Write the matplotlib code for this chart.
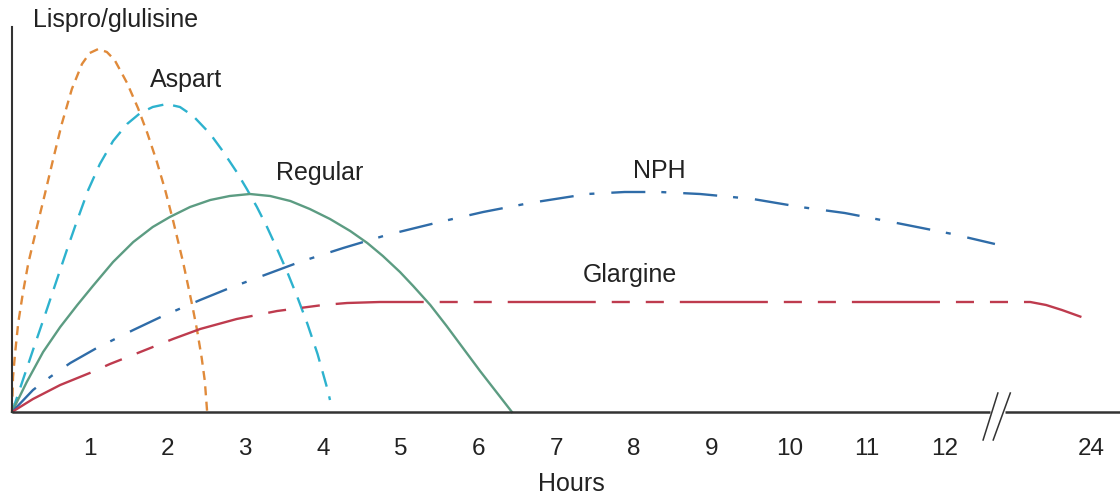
import matplotlib
matplotlib.use("Agg")
import matplotlib.pyplot as plt
import numpy as np

plt.rcParams['font.family'] = ['Liberation Sans', 'DejaVu Sans']
plt.rcParams['lines.scale_dashes'] = False

# ---- data (hours, relative activity) ----
lispro_h = [0, 0.013, 0.04, 0.08, 0.14, 0.21, 0.32, 0.42, 0.53, 0.64, 0.77, 0.90, 1.00, 1.11,
            1.22, 1.32, 1.48, 1.62, 1.74, 1.86, 1.97, 2.07, 2.20, 2.32, 2.38, 2.44, 2.48, 2.51]
lispro_v = [0, 35, 59, 89, 119, 149, 185, 217, 253, 288, 323, 348, 359, 363,
            360, 352, 329, 304, 279, 251, 222, 192, 150, 106, 82, 54, 31, 0]

aspart_h = [0, 0.04, 0.14, 0.27, 0.42, 0.58, 0.71, 0.84, 0.98, 1.13, 1.30, 1.48, 1.65, 1.81,
            1.99, 2.16, 2.33, 2.55, 2.71, 2.89, 3.02, 3.15, 3.28, 3.41, 3.54, 3.67, 3.80,
            3.93, 4.06, 4.09]
aspart_v = [0, 9, 32, 62, 96, 133, 163, 192, 222, 248, 271, 288, 299, 305,
            308, 305, 296, 278, 261, 240, 223, 205, 185, 163, 140, 115, 88,
            58, 22, 12]

regular_h = [0, 0.19, 0.40, 0.62, 0.84, 1.04, 1.30, 1.56, 1.81, 2.03, 2.29, 2.55, 2.80, 3.06,
             3.32, 3.58, 3.83, 4.09, 4.35, 4.57, 4.77, 4.99, 5.16, 5.38, 5.59, 5.80, 6.02,
             6.24, 6.43]
regular_v = [0, 30, 60, 85, 107, 126, 150, 170, 185, 195, 205, 212, 216, 218,
             216, 211, 203, 193, 181, 169, 156, 140, 126, 107, 86, 64, 41,
             19, 0]

nph_h = [0, 0.27, 0.49, 0.75, 1.09, 1.56, 1.94, 2.42, 2.80, 3.32, 3.70, 4.26, 4.82, 5.50,
         6.06, 6.66, 7.40, 7.88, 8.33, 8.85, 9.53, 10.14, 10.71, 11.38, 12.6, 16.1]
nph_v = [0, 22, 35, 49, 64, 82, 96, 112, 124, 139, 150, 164, 177, 190,
         200, 209, 218, 220, 220, 218, 213, 205, 199, 189, 178, 168]

glargine_h = [0, 0.27, 0.62, 1.00, 1.26, 1.65, 2.07, 2.42, 2.89, 3.41, 4.00, 4.31, 4.73,
              8.0, 12.0, 19.0, 20.3, 21.6, 23.2]
glargine_v = [0, 13, 27, 39, 48, 60, 73, 83, 93, 101, 107, 109, 110,
              110, 110, 110, 107, 102, 95]

tick_hours = [1, 2, 3, 4, 5, 6, 7, 8, 9, 10, 11, 12, 24]
tick_labels = ["1", "2", "3", "4", "5", "6", "7", "8", "9", "10", "11", "12", "24"]

# ---- broken time axis: 0-12 h linear, 12-24 h compressed ----
BREAK_H = 12.0
COMPRESS = 1.88 / 12.0


def pos(hours):
    h = np.asarray(hours, dtype=float)
    return np.where(h <= BREAK_H, h, BREAK_H + (h - BREAK_H) * COMPRESS)


W, H, DPI = 1120, 495, 100
fig = plt.figure(figsize=(W / DPI, H / DPI), dpi=DPI)
px_per_h = 77.75
left_px, base_px, top_px = 12, 412, 27
ax = fig.add_axes([left_px / W, (H - base_px) / H, (W - left_px) / W, (base_px - top_px) / H])
ax.set_xlim(0, (W - left_px) / px_per_h)
ax.set_ylim(0, base_px - top_px)

c_lispro = "#E08A3A"
c_aspart = "#2DB2CE"
c_regular = "#5C9C82"
c_nph = "#2F6CA8"
c_glargine = "#BE3B4E"
lw = 1.7

ax.plot(pos(lispro_h), lispro_v, color=c_lispro, lw=lw, dashes=(6.5, 4.6), clip_on=False)
ax.plot(pos(aspart_h), aspart_v, color=c_aspart, lw=lw, dashes=(11.5, 7.2), clip_on=False)
ax.plot(pos(regular_h), regular_v, color=c_regular, lw=lw, clip_on=False)
ax.plot(pos(nph_h), nph_v, color=c_nph, lw=lw, dashes=(24.5, 11.5, 3.6, 12.2), clip_on=False)
ax.plot(pos(glargine_h), glargine_v, color=c_glargine, lw=lw,
        dashes=(63.4, 11.5, 13, 11.5, 13, 11.5), clip_on=False)

# axes
for s in ["top", "right", "bottom"]:
    ax.spines[s].set_visible(False)
ax.spines["left"].set_color("#333333")
ax.spines["left"].set_linewidth(1.5)
ax.set_yticks([])
axis_col = "#333333"
xmax = ax.get_xlim()[1]
gap_lo, gap_hi = 12.58, 12.77
ax.plot([0, gap_lo], [0, 0], color=axis_col, lw=1.8, clip_on=False, solid_capstyle="butt")
ax.plot([gap_hi, xmax], [0, 0], color=axis_col, lw=1.8, clip_on=False, solid_capstyle="butt")
# break marks
ax.plot([12.49, 12.68], [-28, 19], color=axis_col, lw=1.1, clip_on=False)
ax.plot([12.62, 12.84], [-28, 19], color=axis_col, lw=1.1, clip_on=False)

ax.set_xticks(pos(tick_hours))
ax.set_xticklabels(tick_labels)
ax.tick_params(axis="x", length=0, pad=19, labelsize=17.5, labelcolor="#222222")

fs = 18
tc = "#222222"
ax.text(0.27, 392, "Lispro/glulisine", fontsize=fs, color=tc, ha="left", va="center", clip_on=False)
ax.text(1.78, 332, "Aspart", fontsize=fs, color=tc, ha="left", va="center")
ax.text(3.4, 239, "Regular", fontsize=fs, color=tc, ha="left", va="center")
ax.text(7.99, 241, "NPH", fontsize=fs, color=tc, ha="left", va="center")
ax.text(7.34, 137, "Glargine", fontsize=fs, color=tc, ha="left", va="center")
ax.text(7.19, -72, "Hours", fontsize=fs, color=tc, ha="center", va="center", clip_on=False)

fig.savefig("out.png", dpi=DPI)
